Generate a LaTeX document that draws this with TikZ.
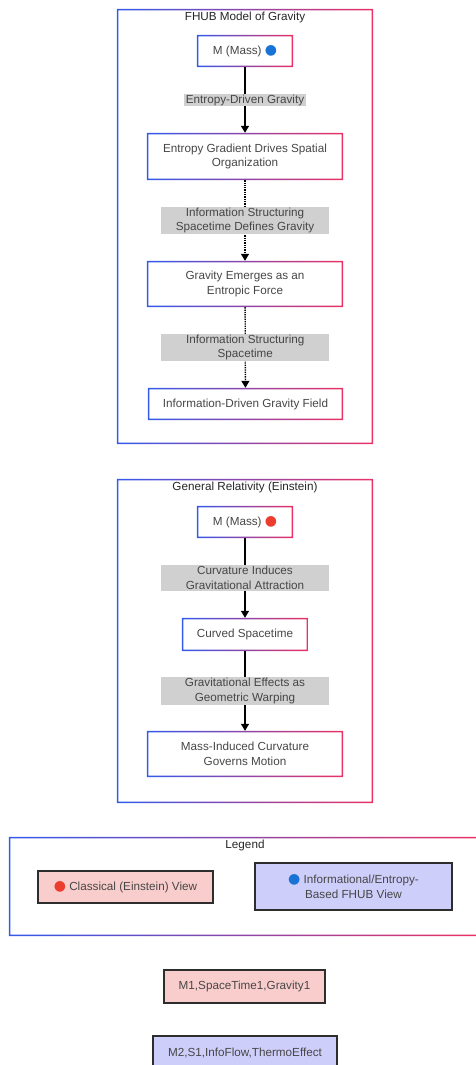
\documentclass[tikz,border=0pt]{standalone}
\usepackage{fontspec}
\setmainfont{Liberation Sans}
\newfontfamily\symfont{DejaVu Sans}
\usepackage{xcolor}
\usetikzlibrary{arrows.meta}
\definecolor{fhblue}{RGB}{50,90,235}
\definecolor{fhpink}{RGB}{235,50,100}
\definecolor{labelgray}{RGB}{208,208,208}
\definecolor{textgray}{RGB}{70,70,70}
\definecolor{keygray}{RGB}{45,45,45}
\definecolor{classpink}{RGB}{250,205,205}
\definecolor{infoblue}{RGB}{206,206,250}
\definecolor{dotblue}{RGB}{25,115,215}
\definecolor{dotred}{RGB}{235,60,45}

\newcommand{\massdot}[1]{{\symfont\fontsize{14}{14}\selectfont\color{#1}●}}
\newcommand{\gradframe}[1]{%
  \shade[left color=fhblue, right color=fhpink, even odd rule]
    (#1.south west) rectangle (#1.north east)
    ([shift={(1.5pt,1.5pt)}]#1.south west) rectangle ([shift={(-1.5pt,-1.5pt)}]#1.north east);}

\begin{document}
\begin{tikzpicture}[x=1pt, y=-1pt,
					font=\fontsize{11.7}{14.5}\selectfont, text=textgray,
					cluster/.style={inner sep=0pt},
					title/.style={text=black!85},
					frame/.style={inner sep=2pt, align=center},
					lbl/.style={fill=labelgray, inner xsep=2pt, inner ysep=1pt, align=center},
					wide/.style={minimum width=168pt},
					flow/.style={line width=1.3pt, -{Triangle[width=8pt,length=7pt]}},
					key/.style={draw=keygray, line width=1.5pt, inner sep=2pt, align=center}
					]
					\clip (0,0) rectangle (476,1065);
					
					% FHUB model
					\node[cluster, minimum width=256pt, minimum height=435pt] (fhub) at (245,226.5) {};
					\node[title] at (245,17) {FHUB Model of Gravity};
					\node[frame, minimum width=96pt, minimum height=32pt] (fmass) at (245,51) {M (Mass) \massdot{dotblue}};
					\node[frame, minimum width=196pt, minimum height=47pt] (fgrad) at (245,156.5) {Entropy Gradient Drives Spatial\\Organization};
					\node[frame, minimum width=196pt, minimum height=46pt] (femerge) at (245,284) {Gravity Emerges as an\\Entropic Force};
					\node[frame, minimum width=195pt, minimum height=32pt] (ffield) at (245.5,404) {Information-Driven Gravity Field};
					
					\draw[flow] (fmass) -- node[lbl] {Entropy-Driven Gravity} (fgrad);
					\draw[flow, densely dotted] (fgrad) -- node[lbl, wide] {Information Structuring\\Spacetime Defines Gravity} (femerge);
					\draw[flow, densely dotted] (femerge) -- node[lbl, wide] {Information Structuring\\Spacetime} (ffield);
					
					% General Relativity
					\node[cluster, minimum width=256pt, minimum height=324pt] (gr) at (245,641) {};
					\node[title] at (245,487) {General Relativity (Einstein)};
					\node[frame, minimum width=96pt, minimum height=32pt] (gmass) at (245,522) {M (Mass) \massdot{dotred}};
					\node[frame, minimum width=126pt, minimum height=33pt] (gcurve) at (245,634.5) {Curved Spacetime};
					\node[frame, minimum width=196pt, minimum height=46pt] (gmotion) at (245,754) {Mass-Induced Curvature\\Governs Motion};
					
					\draw[flow] (gmass) -- node[lbl, wide] {Curvature Induces\\Gravitational Attraction} (gcurve);
					\draw[flow] (gcurve) -- node[lbl, wide] {Gravitational Effects as\\Geometric Warping} (gmotion);
					
					% Legend
					\node[cluster, minimum width=471pt, minimum height=99pt] (legend) at (244.5,886.5) {};
					\node[title] at (245,845) {Legend};
					\node[key, fill=classpink, minimum width=175pt, minimum height=32pt] (kclass) at (125.5,887) {\massdot{dotred} Classical (Einstein) View};
					\node[key, fill=infoblue, minimum width=197pt, minimum height=47pt] (kinfo) at (353.5,886.5) {\massdot{dotblue} Informational/Entropy-\\Based FHUB View};
					
					\node[key, fill=classpink, minimum width=161pt, minimum height=33pt] (mone) at (244.5,986.5) {M1,SpaceTime1,Gravity1};
					\node[key, fill=infoblue, minimum width=184pt, minimum height=33pt] (mtwo) at (245,1052.5) {M2,S1,InfoFlow,ThermoEffect};
					
					% gradient borders
					\foreach \n in {fhub,fmass,fgrad,femerge,ffield,gr,gmass,gcurve,gmotion,legend}
						{\gradframe{\n}}
				\end{tikzpicture}
\end{document}
